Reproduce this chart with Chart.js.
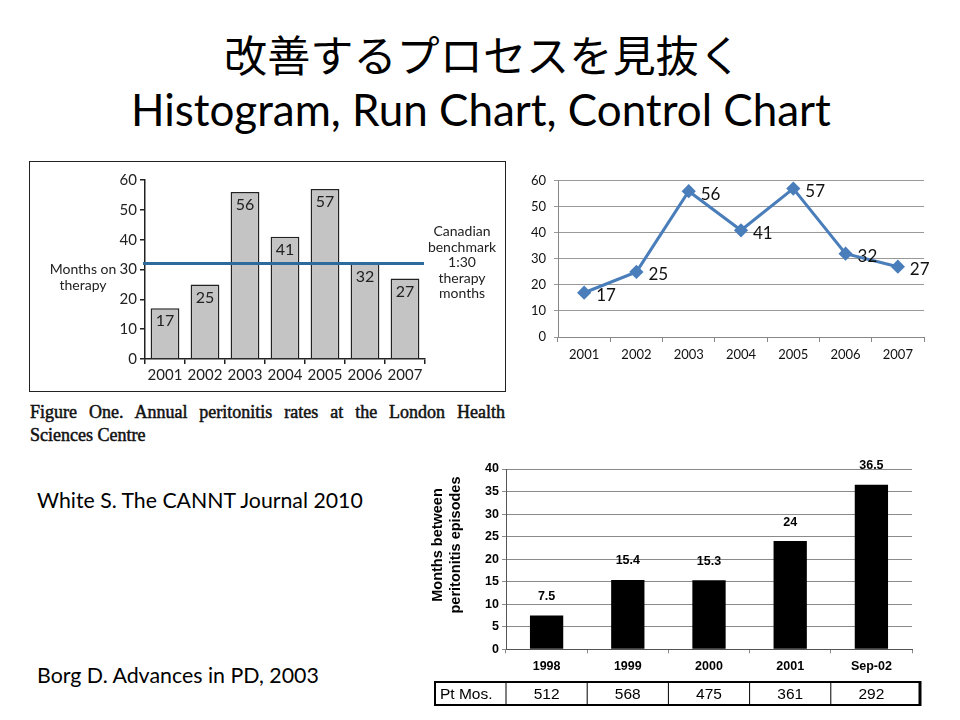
<!DOCTYPE html>
<html>
<head>
<meta charset="utf-8">
<script src="https://cdn.jsdelivr.net/npm/chart.js@4"></script>
<style>
  body { margin: 0; width: 960px; height: 720px; background: #fff; position: relative; overflow: hidden; font-family: Lato, "Open Sans", sans-serif; }
  .abs { position: absolute; white-space: nowrap; }
  canvas { position: absolute; }
  #box1 { position: absolute; left: 29px; top: 161px; width: 477px; height: 231px; border: 1.5px solid #222; box-sizing: border-box; }
  #caption { position: absolute; left: 30px; top: 401px; width: 475px; font-family: "Liberation Serif", "DejaVu Serif", serif; font-size: 18px; line-height: 23px; text-align: justify; text-align-last: left; color: #111; -webkit-text-stroke: 0.5px #111; }
</style>
</head>
<body>
<div class="abs" id="t1" style="left:224px; top:28px; font-family:'Noto Sans CJK JP'; font-size:42px; line-height:50px;">改善するプロセスを見抜く</div>
<div class="abs" id="t2" style="left:131px; top:84px; font-size:40px; line-height:50px;">Histogram, Run Chart, Control Chart</div>

<div id="box1"></div>
<canvas id="c1" width="476" height="230" style="left:29px; top:161px;"></canvas>
<div class="abs" style="left:40px; top:261px; width:86px; text-align:center; font-size:14px; line-height:16px; color:#222; white-space:normal;">Months on<br>therapy</div>
<div class="abs" style="left:418px; top:223px; width:88px; text-align:center; font-size:14px; line-height:15.5px; color:#222;">Canadian<br>benchmark<br>1:30<br>therapy<br>months</div>
<div id="caption">Figure One. Annual peritonitis rates at the London Health Sciences Centre</div>

<canvas id="c2" width="440" height="205" style="left:515px; top:165px;"></canvas>

<div class="abs" id="n1" style="left:37px; top:487px; font-size:19px; line-height:26px;">White S. The CANNT Journal 2010</div>
<div class="abs" id="n2" style="left:37px; top:662px; font-size:19px; line-height:26px;">Borg D. Advances in PD, 2003</div>

<canvas id="c3" width="510" height="260" style="left:420px; top:455px;"></canvas>

<script>
// London HSC, months on therapy per peritonitis episode
const years = ['2001', '2002', '2003', '2004', '2005', '2006', '2007'];
const months = [17, 25, 56, 41, 57, 32, 27];
const benchmark = 32;

// Borg, months between peritonitis episodes
const borgLabels = ['1998', '1999', '2000', '2001', 'Sep-02'];
const borgMonths = [7.5, 15.4, 15.3, 24, 36.5];
const ptMos = [512, 568, 475, 361, 292];
const borgTitle = ['Months between', 'peritonitis episodes'];

Chart.defaults.font.family = 'Lato, "Open Sans", sans-serif';
Chart.defaults.color = '#222';

function fitWidth(id, target) {
	let el = document.getElementById(id);
	let size = parseFloat(getComputedStyle(el).fontSize);
	el.style.fontSize = (size * target / el.getBoundingClientRect().width) + 'px';
}
fitWidth('t1', 518);
fitWidth('t2', 700);
fitWidth('n1', 326);
fitWidth('n2', 282);

// chart 1: gray bars with benchmark line
new Chart(document.getElementById('c1'), {
	type: 'bar',
	data: {
		labels: years,
		datasets: [{
			data: months,
			backgroundColor: '#c4c4c4',
			borderColor: '#222',
			borderWidth: 1.5,
			categoryPercentage: 1,
			barPercentage: 0.72
		}]
	},
	options: {
		responsive: false,
		animation: false,
		devicePixelRatio: 1,
		layout: {padding: {left: 0, top: 19, right: 80, bottom: 0}},
		plugins: {legend: {display: false}, tooltip: {enabled: false}},
		scales: {
			x: {
				offset: true,
				grid: {offset: true, drawOnChartArea: false, tickLength: 5, color: '#222', lineWidth: 1.5},
				border: {color: '#222', width: 1.5},
				ticks: {font: {size: 15}, padding: 2, maxRotation: 0, minRotation: 0, autoSkip: false},
				afterFit: s => { s.height = 32; }
			},
			y: {
				min: 0, max: 60,
				grid: {drawOnChartArea: false, tickLength: 5, color: '#222', lineWidth: 1.5},
				border: {color: '#222', width: 1.5},
				ticks: {stepSize: 10, font: {size: 15}, padding: 3},
				afterFit: s => { s.width = 116; }
			}
		}
	},
	plugins: [{
		id: 'marks1',
		afterDatasetsDraw(chart) {
			let ctx = chart.ctx;
			let area = chart.chartArea;
			let yv = chart.scales.y.getPixelForValue(benchmark);
			ctx.save();
			ctx.strokeStyle = '#2d6b9c';
			ctx.lineWidth = 3;
			ctx.beginPath();
			ctx.moveTo(area.left - 2, yv);
			ctx.lineTo(area.right - 1, yv);
			ctx.stroke();
			ctx.fillStyle = '#222';
			ctx.font = '16px Lato';
			ctx.textAlign = 'center';
			ctx.textBaseline = 'middle';
			chart.getDatasetMeta(0).data.forEach((bar, i) => {
				ctx.fillText(months[i], bar.x, bar.y + 13);
			});
			ctx.restore();
		}
	}]
});

// chart 2: run chart
new Chart(document.getElementById('c2'), {
	type: 'line',
	data: {
		labels: years,
		datasets: [{
			data: months,
			borderColor: '#4a7ebb',
			backgroundColor: '#4a7ebb',
			borderWidth: 3,
			pointStyle: 'rectRot',
			pointRadius: 5,
			tension: 0
		}]
	},
	options: {
		responsive: false,
		animation: false,
		devicePixelRatio: 1,
		layout: {padding: {left: 0, top: 15, right: 31, bottom: 0}},
		plugins: {legend: {display: false}, tooltip: {enabled: false}},
		scales: {
			x: {
				offset: true,
				grid: {offset: true, drawOnChartArea: false, tickLength: 5, color: '#888'},
				border: {color: '#888'},
				ticks: {font: {size: 13}, color: '#111', padding: 5, maxRotation: 0, autoSkip: false},
				afterFit: s => { s.height = 33; }
			},
			y: {
				min: 0, max: 60,
				grid: {tickLength: 4, color: '#999'},
				border: {color: '#888'},
				ticks: {stepSize: 10, font: {size: 13}, color: '#111', padding: 8},
				afterFit: s => { s.width = 43; }
			}
		}
	},
	plugins: [{
		id: 'labels2',
		afterDatasetsDraw(chart) {
			let ctx = chart.ctx;
			ctx.save();
			ctx.fillStyle = '#111';
			ctx.font = '17px Lato';
			ctx.textAlign = 'left';
			ctx.textBaseline = 'middle';
			chart.getDatasetMeta(0).data.forEach((pt, i) => {
				ctx.fillText(months[i], pt.x + 12, pt.y + 3);
			});
			ctx.restore();
		}
	}]
});

// chart 3: black bars with patient-months table
new Chart(document.getElementById('c3'), {
	type: 'bar',
	data: {
		labels: borgLabels,
		datasets: [{
			data: borgMonths,
			backgroundColor: '#000',
			categoryPercentage: 1,
			barPercentage: 0.41
		}]
	},
	options: {
		responsive: false,
		animation: false,
		devicePixelRatio: 1,
		layout: {padding: {left: 0, top: 14, right: 18, bottom: 0}},
		plugins: {legend: {display: false}, tooltip: {enabled: false}},
		scales: {
			x: {
				offset: true,
				grid: {offset: true, drawOnChartArea: false, tickLength: 4, color: '#888'},
				border: {color: '#555'},
				ticks: {font: {size: 12.5, weight: 'bold', family: 'Liberation Sans'}, color: '#000', padding: 6},
				afterFit: s => { s.height = 65.7; }
			},
			y: {
				min: 0, max: 40,
				grid: {tickLength: 4, color: '#8a8a8a'},
				border: {color: '#555'},
				ticks: {stepSize: 5, font: {size: 12.5, weight: 'bold', family: 'Liberation Sans'}, color: '#000', padding: 3},
				afterFit: s => { s.width = 86; }
			}
		}
	},
	plugins: [{
		id: 'table3',
		afterDatasetsDraw(chart) {
			let ctx = chart.ctx;
			let x = chart.scales.x;
			ctx.save();
			ctx.fillStyle = '#000';
			ctx.font = 'bold 12.5px "Liberation Sans"';
			ctx.textAlign = 'center';
			ctx.textBaseline = 'middle';
			chart.getDatasetMeta(0).data.forEach((bar, i) => {
				ctx.fillText(borgMonths[i], bar.x, bar.y - 19);
			});

			// rotated axis title
			ctx.save();
			ctx.translate(0, 90);
			ctx.rotate(-Math.PI / 2);
			ctx.font = 'bold 14.5px "Liberation Sans"';
			ctx.fillText(borgTitle[0], 0, 18);
			ctx.fillText(borgTitle[1], 0, 36);
			ctx.restore();

			let top = 227, bottom = 250;
			let half = (x.getPixelForValue(1) - x.getPixelForValue(0)) / 2;
			let left = 15;
			let right = x.getPixelForValue(borgLabels.length - 1) + half + 8;
			ctx.strokeStyle = '#000';
			ctx.lineWidth = 2;
			ctx.strokeRect(left, top, right - left, bottom - top);
			ctx.lineWidth = 3;
			ctx.beginPath();
			ctx.moveTo(right, top - 1);
			ctx.lineTo(right, bottom + 1);
			ctx.stroke();
			ctx.lineWidth = 1;
			for (let i = 0; i < borgLabels.length; i++) {
				let bx = x.getPixelForValue(i) - half;
				ctx.beginPath();
				ctx.moveTo(bx, top);
				ctx.lineTo(bx, bottom);
				ctx.stroke();
			}
			ctx.font = '15.5px "Liberation Sans"';
			ctx.textAlign = 'left';
			ctx.fillText('Pt Mos.', left + 5, (top + bottom) / 2 + 1);
			ctx.textAlign = 'center';
			ptMos.forEach((v, i) => {
				ctx.fillText(v, x.getPixelForValue(i), (top + bottom) / 2 + 1);
			});
			ctx.restore();
		}
	}]
});
</script>
</body>
</html>
